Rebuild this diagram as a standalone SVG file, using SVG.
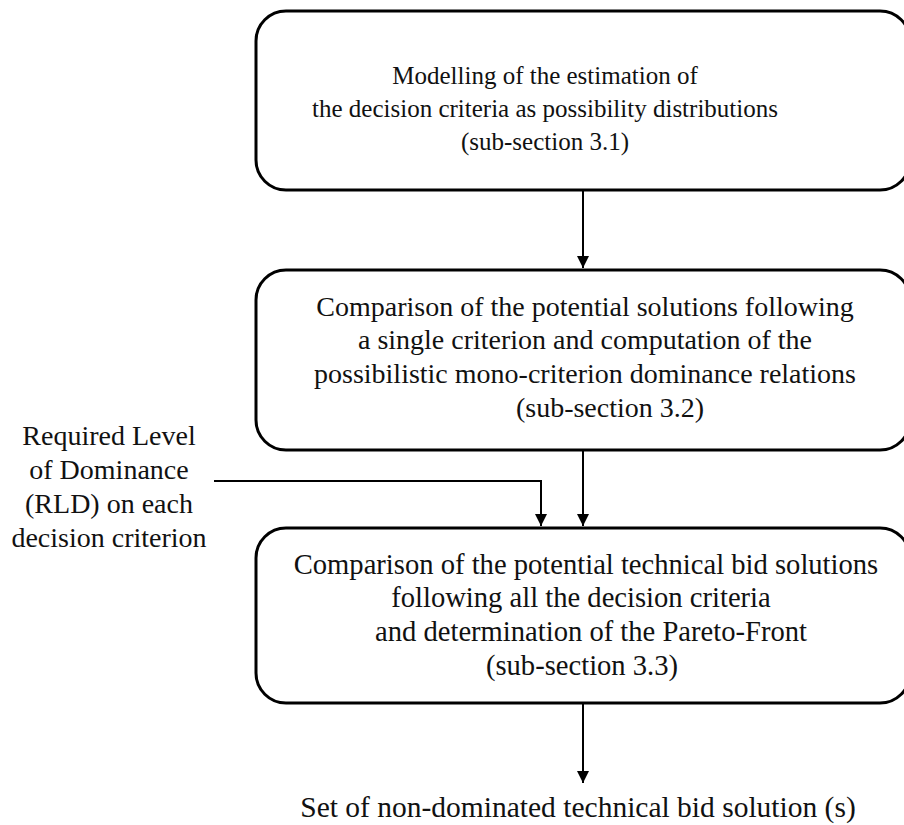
<svg xmlns="http://www.w3.org/2000/svg" width="904" height="825" viewBox="0 0 904 825">
<defs>
<marker id="ah" viewBox="0 0 10 10" refX="10" refY="5" markerWidth="12" markerHeight="13" markerUnits="userSpaceOnUse" orient="auto">
<path d="M0,0 L10,5 L0,10 z" fill="#000"/>
</marker>
<style>
.box{fill:#fff;stroke:#000;stroke-width:3}
.t{font-family:"Liberation Serif","Times New Roman",serif;fill:#111;text-anchor:middle}
.c{fill:none;stroke:#000;stroke-width:2;marker-end:url(#ah)}
</style>
</defs>
<rect width="904" height="825" fill="#fff"/>
<g id="connectors">
<line class="c" x1="583" y1="190" x2="583" y2="268"/>
<path class="c" d="M214,481 H541 V526"/>
<line class="c" x1="583" y1="450" x2="583" y2="526"/>
<line class="c" x1="583" y1="703" x2="583" y2="783"/>
</g>
<g id="node1">
<rect class="box" x="256" y="11" width="654" height="179" rx="30"/>
<text class="t" font-size="25" x="545" y="84">Modelling  of the estimation  of</text>
<text class="t" font-size="25" x="545" y="117">the decision criteria as possibility distributions</text>
<text class="t" font-size="25" x="545" y="150">(sub-section 3.1)</text>
</g>
<g id="node2">
<rect class="box" x="256" y="270" width="654" height="180" rx="30"/>
<text class="t" font-size="28" x="585" y="316">Comparison of the potential solutions following</text>
<text class="t" font-size="28" x="585" y="349">a single criterion and computation of the</text>
<text class="t" font-size="28" x="585" y="383">possibilistic mono-criterion  dominance relations</text>
<text class="t" font-size="28" x="610" y="417">(sub-section 3.2)</text>
</g>
<g id="node3">
<rect class="box" x="256" y="528" width="654" height="175" rx="30"/>
<text class="t" font-size="28.6" x="586" y="574">Comparison of the potential technical bid solutions</text>
<text class="t" font-size="28.6" x="581" y="607">following  all the decision criteria</text>
<text class="t" font-size="28.6" x="591" y="641">and determination  of the Pareto-Front</text>
<text class="t" font-size="28.6" x="582" y="675">(sub-section 3.3)</text>
</g>
<g id="input">
<text class="t" font-size="28" x="109" y="445">Required Level</text>
<text class="t" font-size="28" x="109" y="479">of Dominance</text>
<text class="t" font-size="28" x="109" y="513">(RLD)  on each</text>
<text class="t" font-size="28" x="109" y="547">decision criterion</text>
</g>
<g id="output">
<text class="t" font-size="29.5" x="578" y="817">Set of non-dominated  technical bid solution (s)</text>
</g>
</svg>
